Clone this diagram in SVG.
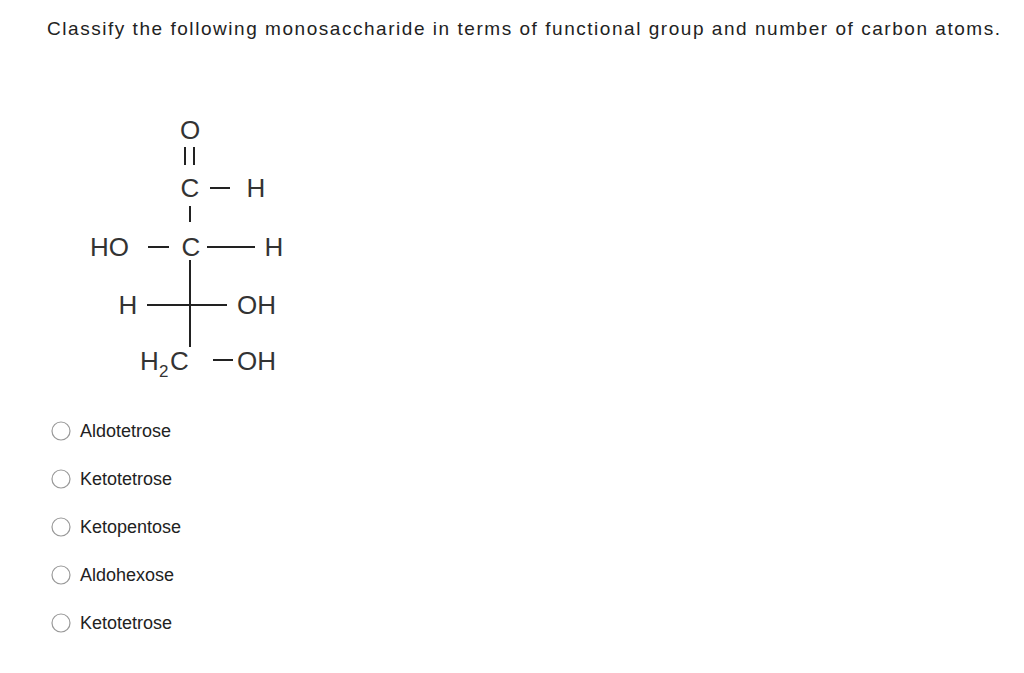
<svg xmlns="http://www.w3.org/2000/svg" width="1024" height="673" viewBox="0 0 1024 673">
<style>
.q{font-family:"Liberation Sans",Arial,sans-serif;font-size:19px;fill:#222}
.o{font-family:"Liberation Sans",Arial,sans-serif;font-size:18px;fill:#222}
.m{font-family:"Liberation Sans",Arial,sans-serif;font-size:26px;fill:#333}
.s{font-family:"Liberation Sans",Arial,sans-serif;font-size:17px;fill:#333}
.b{stroke:#222;stroke-width:2;fill:none}
.r{fill:#fff;stroke:#999;stroke-width:1.2}
</style>
<rect width="1024" height="673" fill="#fff"/>
<text class="q" x="47" y="35" textLength="953">Classify the following monosaccharide in terms of functional group and number of carbon atoms.</text>
<g id="molecule">
<text class="m" x="190" y="139" text-anchor="middle">O</text>
<text class="m" x="190" y="197" text-anchor="middle">C</text>
<text class="m" x="256" y="197" text-anchor="middle">H</text>
<text class="m" x="90" y="256">HO</text>
<text class="m" x="191" y="256" text-anchor="middle">C</text>
<text class="m" x="274" y="256" text-anchor="middle">H</text>
<text class="m" x="128" y="314" text-anchor="middle">H</text>
<text class="m" x="237" y="314">OH</text>
<text class="m" x="140" y="370">H</text>
<text class="s" x="159" y="377">2</text>
<text class="m" x="170" y="370">C</text>
<text class="m" x="237" y="370">OH</text>
</g>
<g id="bonds">
<path class="b" d="M185 147V165M194 147V165M210 188H230M190 206V222M148 247H169M207 247H255M190 260V347M147 305H227M213 360H233"/>
</g>
<g id="options">
<circle class="r" cx="61" cy="431" r="9"/><text class="o" x="80" y="437">Aldotetrose</text>
<circle class="r" cx="61" cy="479" r="9"/><text class="o" x="80" y="485">Ketotetrose</text>
<circle class="r" cx="61" cy="527" r="9"/><text class="o" x="80" y="533">Ketopentose</text>
<circle class="r" cx="61" cy="575" r="9"/><text class="o" x="80" y="581">Aldohexose</text>
<circle class="r" cx="61" cy="623" r="9"/><text class="o" x="80" y="629">Ketotetrose</text>
</g>
</svg>
